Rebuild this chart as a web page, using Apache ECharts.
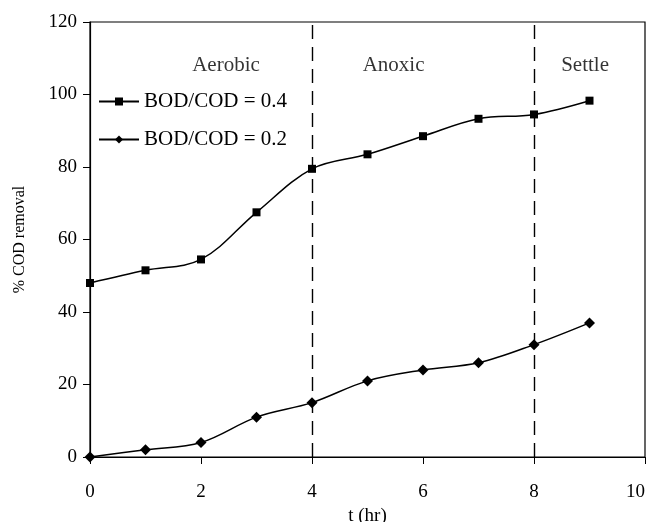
<!DOCTYPE html>
<html>
<head>
<meta charset="utf-8">
<script src="https://cdn.jsdelivr.net/npm/echarts@6/dist/echarts.min.js"></script>
<style>
  html, body { margin: 0; padding: 0; background: #fff; }
  #main { width: 649px; height: 522px; }
</style>
</head>
<body>
<div id="main"></div>
<script>
var hours = [0, 1, 2, 3, 4, 5, 6, 7, 8, 9];
var ratio04 = [48, 51.5, 54.5, 67.5, 79.5, 83.5, 88.5, 93.3, 94.5, 98.3];
var ratio02 = [0, 2, 4, 11, 15, 21, 24, 26, 31, 37];
var phaseNames = ['Aerobic', 'Anoxic', 'Settle'];
var phaseX = [2.45, 5.47, 8.92];
var phaseY = [108, 108, 108];
var phaseBounds = [4, 8];

function pairs(xs, ys) {
    var out = [];
    for (var i = 0; i < xs.length; i++) {
        out.push([xs[i], ys[i]]);
    }
    return out;
}

var myChart = echarts.init(document.getElementById('main'));
var font = 'Liberation Serif';

var phaseData = [];
for (var i = 0; i < phaseNames.length; i++) {
    phaseData.push({ value: [phaseX[i], phaseY[i]], name: phaseNames[i] });
}

var boundLines = [];
for (var j = 0; j < phaseBounds.length; j++) {
    boundLines.push({ xAxis: phaseBounds[j] });
}

var option = {
    animation: false,
    backgroundColor: '#fff',
    textStyle: { fontFamily: font, color: '#000' },
    grid: {
        left: 90, right: 4, top: 22, bottom: 65,
        outerBoundsMode: 'none',
        containLabel: false,
        show: true, borderColor: '#000', borderWidth: 1.2
    },
    legend: {
        orient: 'vertical',
        left: 93, top: 86,
        itemWidth: 40, itemHeight: 10, itemGap: 17,
        textStyle: { fontFamily: font, fontSize: 21, color: '#000' },
        data: ['BOD/COD = 0.4', 'BOD/COD = 0.2']
    },
    xAxis: {
        type: 'value', min: 0, max: 10, interval: 2,
        name: 't (hr)', nameLocation: 'middle', nameGap: 50,
        nameTextStyle: { fontFamily: font, fontSize: 19, color: '#000' },
        axisLine: { lineStyle: { color: '#000', width: 1.2 } },
        axisTick: { inside: false, length: 7, lineStyle: { color: '#000' } },
        axisLabel: { fontFamily: font, fontSize: 19, color: '#000', margin: 26, alignMaxLabel: 'right' },
        splitLine: { show: false }
    },
    yAxis: {
        type: 'value', min: 0, max: 120, interval: 20,
        name: '% COD removal', nameLocation: 'middle', nameGap: 62,
        nameTextStyle: { fontFamily: font, fontSize: 16, color: '#000' },
        axisLine: { lineStyle: { color: '#000', width: 1.2 } },
        axisTick: { inside: false, length: 7, lineStyle: { color: '#000' } },
        axisLabel: { fontFamily: font, fontSize: 19, color: '#000', margin: 13 },
        splitLine: { show: false }
    },
    series: [
        {
            name: 'BOD/COD = 0.4',
            type: 'line',
            data: pairs(hours, ratio04),
            smooth: 0.35,
            symbol: 'rect', symbolSize: 8,
            itemStyle: { color: '#000' },
            lineStyle: { color: '#000', width: 1.5 },
            markLine: {
                silent: true,
                symbol: 'none',
                label: { show: false },
                lineStyle: { color: '#000', width: 1.4, type: [14, 8] },
                data: boundLines
            }
        },
        {
            name: 'BOD/COD = 0.2',
            type: 'line',
            data: pairs(hours, ratio02),
            smooth: 0.35,
            symbol: 'diamond', symbolSize: 11,
            itemStyle: { color: '#000' },
            lineStyle: { color: '#000', width: 1.5 }
        },
        {
            name: 'phases',
            type: 'scatter',
            data: phaseData,
            symbolSize: 0,
            silent: true,
            label: {
                show: true, position: 'inside',
                formatter: '{b}',
                fontFamily: font, fontSize: 21, color: '#000',
                textBorderWidth: 0
            }
        }
    ]
};

myChart.setOption(option);
</script>
</body>
</html>
